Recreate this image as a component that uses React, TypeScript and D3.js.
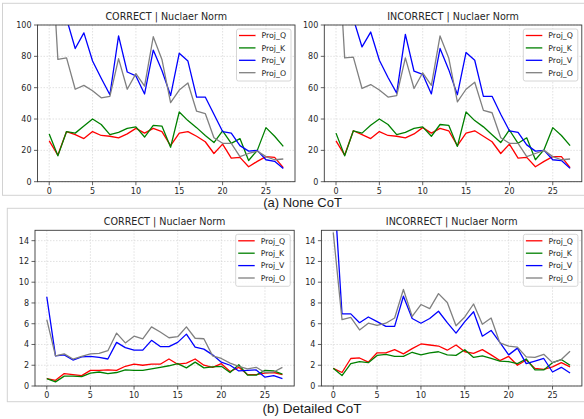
import React from 'react';
import * as d3 from 'd3';

// layer index on x axis
const layers = d3.range(28);
const seriesNames = ['Proj_Q', 'Proj_K', 'Proj_V', 'Proj_O'];
const seriesColors = ['#ff0000', '#008000', '#0000ff', '#808080'];

// (a) None CoT, CORRECT
const noneCorrectQ = [26, 17, 32, 30, 27.5, 32, 29.5, 29, 28, 30.5, 34, 31, 34, 32, 23, 31, 32, 29, 25.5, 18, 24, 15, 15.5, 9.5, 13, 16, 15.5, 9];
const noneCorrectK = [30.5, 16.5, 32, 31, 35.5, 40, 36.5, 30, 31.5, 34, 35, 28.5, 36, 35.5, 22, 44.5, 39, 34.5, 29.5, 25, 32.5, 24.5, 27.5, 13.5, 20, 34.5, 29, 22.5];
const noneCorrectV = [135, 118, 104, 85, 95, 77, 66, 55.5, 93, 70, 67.5, 56, 84, 71, 55, 82, 77, 54, 54, 43, 32, 31, 23, 19.5, 20, 14, 13, 8.5];
const noneCorrectO = [174, 78, 79, 59, 61.5, 58, 53.5, 54.5, 78.5, 59, 69, 61, 92.5, 78, 50.5, 58.5, 63, 45, 43.5, 28, 24.5, 24.5, 16, 18, 19.5, 16, 14, 14.5];

// (a) None CoT, INCORRECT
const noneIncorrectQ = [26, 17, 32.5, 30, 27.5, 32, 29.5, 29, 28, 30.5, 34.5, 31, 34, 32.5, 23, 31, 32.5, 29, 25.5, 18, 24, 15, 15.5, 9.5, 13, 16, 16, 9];
const noneIncorrectK = [31, 16.5, 32.5, 31, 36, 40, 36.5, 30, 31.5, 34, 35, 29, 36.5, 36, 22.5, 44.5, 39, 35, 30, 25, 33, 24.5, 28, 14, 20.5, 34.5, 29.5, 23];
const noneIncorrectV = [136, 119, 104, 86, 95.5, 77.5, 66.5, 56.5, 94, 70.5, 68.5, 56, 85, 71.5, 55.5, 82.5, 77.5, 54.5, 54.5, 43, 32.5, 31.5, 23.5, 19.5, 20, 14, 13.5, 8.5];
const noneIncorrectO = [175, 79, 79.5, 59.5, 62, 58.5, 54, 55, 79, 59.5, 69.5, 61.5, 93, 79, 51, 59, 63.5, 45.5, 44, 28, 24.5, 24.5, 16, 18, 20, 16, 14, 14.5];

// (b) Detailed CoT, CORRECT
const detCorrectQ = [0.7, 0.55, 1.2, 1.1, 1.0, 1.5, 1.5, 1.55, 1.5, 1.9, 2.1, 2.0, 2.1, 2.1, 2.6, 2.1, 2.2, 2.6, 2.0, 1.8, 2.15, 1.4, 1.8, 1.1, 1.1, 1.25, 1.3, 1.1];
const detCorrectK = [0.7, 0.4, 0.95, 0.95, 0.9, 1.25, 1.35, 1.2, 1.3, 1.55, 1.5, 1.5, 1.65, 1.8, 1.95, 2.15, 1.75, 2.3, 1.75, 1.85, 1.9, 1.3, 2.05, 1.05, 1.05, 1.5, 1.45, 1.15];
const detCorrectV = [8.6, 2.9, 3.0, 2.5, 2.8, 2.85, 2.75, 2.6, 4.2, 3.7, 3.45, 3.45, 4.4, 3.8, 3.8, 4.2, 5.0, 3.75, 3.55, 3.0, 2.3, 2.0, 1.45, 1.5, 1.55, 0.85, 1.0, 0.7];
const detCorrectO = [6.4, 2.9, 3.1, 2.6, 2.85, 3.1, 3.15, 3.4, 5.1, 4.15, 4.8, 4.55, 5.7, 5.2, 4.65, 4.75, 5.7, 4.6, 4.55, 2.9, 2.65, 2.2, 1.9, 1.65, 1.8, 1.3, 1.35, 1.8];

// (b) Detailed CoT, INCORRECT
const detIncorrectQ = [1.7, 1.3, 2.65, 2.7, 2.3, 3.2, 3.2, 3.5, 3.1, 3.6, 4.05, 3.95, 3.85, 3.45, 3.95, 3.3, 3.15, 3.5, 3.0, 2.45, 2.85, 2.0, 2.5, 1.7, 1.6, 1.85, 2.25, 1.85];
const detIncorrectK = [1.7, 1.0, 2.15, 2.35, 2.25, 2.95, 3.05, 2.85, 2.85, 3.25, 3.0, 3.2, 3.3, 3.0, 2.95, 3.5, 2.75, 2.9, 2.65, 2.4, 2.35, 2.15, 2.6, 1.55, 1.55, 2.25, 2.55, 2.0];
const detIncorrectV = [20.4, 6.95, 6.95, 6.1, 6.65, 6.2, 5.75, 5.75, 8.65, 6.5, 6.05, 6.5, 7.2, 6.1, 5.1, 6.2, 7.15, 4.8, 5.35, 4.2, 3.0, 3.65, 2.15, 2.4, 2.65, 1.35, 1.8, 1.25];
const detIncorrectO = [14.8, 6.4, 6.6, 5.4, 6.05, 5.85, 6.05, 6.55, 9.3, 6.7, 7.85, 7.45, 8.9, 8.05, 5.8, 6.65, 7.9, 5.95, 6.55, 4.15, 3.85, 3.75, 2.8, 2.75, 3.05, 2.25, 2.55, 3.35];

const xTicks = [0, 5, 10, 15, 20, 25];
const yTicksNone = [0, 20, 40, 60, 80, 100];
const yTicksDet = [0, 2, 4, 6, 8, 10, 12, 14];

const FONT = '"DejaVu Sans", sans-serif';

interface PanelProps {
  id: string;
  title: string;
  series: number[][];
  x0: number;
  x1: number;
  yTop: number;
  yBottom: number;
  yMax: number;
  yTicks: number[];
  titleY: number;
}

const Panel = ({ id, title, series, x0, x1, yTop, yBottom, yMax, yTicks, titleY }: PanelProps) => {
  const x = d3.scaleLinear().domain([-1.35, 28.35]).range([x0, x1]);
  const y = d3.scaleLinear().domain([0, yMax]).range([yBottom, yTop]);
  const line = d3
    .line<number>()
    .x((_, i) => x(layers[i]))
    .y((d) => y(d));

  const lx = x1 - 4 - 54.5;
  const ly = yTop + 4;

  return (
    <g>
      <defs>
        <clipPath id={id}>
          <rect x={x0} y={yTop} width={x1 - x0} height={yBottom - yTop} />
        </clipPath>
      </defs>
      <rect x={x0} y={yTop} width={x1 - x0} height={yBottom - yTop} fill="#fff" />
      {/* grid */}
      {xTicks.map((t) => (
        <line key={'gx' + t} x1={x(t)} x2={x(t)} y1={yTop} y2={yBottom} stroke="#d4d4d4" strokeWidth={0.7} strokeDasharray="1.5,1.5" />
      ))}
      {yTicks.map((t) => (
        <line key={'gy' + t} x1={x0} x2={x1} y1={y(t)} y2={y(t)} stroke="#d4d4d4" strokeWidth={0.7} strokeDasharray="1.5,1.5" />
      ))}
      <g clipPath={`url(#${id})`}>
        {series.map((s, k) => (
          <path key={k} d={line(s) || ''} fill="none" stroke={seriesColors[k]} strokeWidth={1.3} strokeLinejoin="round" />
        ))}
      </g>
      <rect x={x0} y={yTop} width={x1 - x0} height={yBottom - yTop} fill="none" stroke="#3a3a3a" strokeWidth={0.9} />
      {/* x ticks */}
      {xTicks.map((t) => (
        <g key={'tx' + t}>
          <line x1={x(t)} x2={x(t)} y1={yBottom} y2={yBottom + 3.5} stroke="#3a3a3a" strokeWidth={0.8} />
          <text x={x(t)} y={yBottom + 12} textAnchor="middle" fontSize={8} fontFamily={FONT} fill="#262626">
            {t}
          </text>
        </g>
      ))}
      {/* y ticks */}
      {yTicks.map((t) => (
        <g key={'ty' + t}>
          <line x1={x0 - 3.5} x2={x0} y1={y(t)} y2={y(t)} stroke="#3a3a3a" strokeWidth={0.8} />
          <text x={x0 - 6} y={y(t) + 2.9} textAnchor="end" fontSize={8} fontFamily={FONT} fill="#262626">
            {t}
          </text>
        </g>
      ))}
      <text x={(x0 + x1) / 2} y={titleY} textAnchor="middle" fontSize={9.6} fontFamily={FONT} fill="#262626">
        {title}
      </text>
      {/* legend */}
      <rect x={lx} y={ly} width={54.5} height={52} rx={2} fill="#fff" fillOpacity={0.85} stroke="#cccccc" strokeWidth={0.8} />
      {seriesNames.map((n, k) => (
        <g key={n}>
          <line x1={lx + 2.5} x2={lx + 19} y1={ly + 6.5 + k * 12.4} y2={ly + 6.5 + k * 12.4} stroke={seriesColors[k]} strokeWidth={1.3} />
          <text x={lx + 25} y={ly + 9.3 + k * 12.4} fontSize={7.8} fontFamily={FONT} fill="#262626">
            {n}
          </text>
        </g>
      ))}
    </g>
  );
};

const App = () => {
  return (
    <svg width={584} height={419} style={{ position: 'absolute', left: 0, top: 0, background: '#fff' }}>
      <rect x={0} y={0} width={584} height={419} fill="#fff" />
      {/* frames around each row */}
      <rect x={2.5} y={3.3} width={584} height={192} fill="none" stroke="#d2d2d2" strokeWidth={1} />
      <rect x={7.3} y={208.3} width={584} height={193.4} fill="none" stroke="#d2d2d2" strokeWidth={1} />
      <Panel
        id="c1"
        title="CORRECT | Nuclaer Norm"
        series={[noneCorrectQ, noneCorrectK, noneCorrectV, noneCorrectO]}
        x0={37.5}
        x1={295}
        yTop={25}
        yBottom={181.7}
        yMax={100}
        yTicks={yTicksNone}
        titleY={19.8}
      />
      <Panel
        id="c2"
        title="INCORRECT | Nuclaer Norm"
        series={[noneIncorrectQ, noneIncorrectK, noneIncorrectV, noneIncorrectO]}
        x0={324.3}
        x1={581.8}
        yTop={25}
        yBottom={181.7}
        yMax={100}
        yTicks={yTicksNone}
        titleY={19.8}
      />
      <Panel
        id="c3"
        title="CORRECT | Nuclaer Norm"
        series={[detCorrectQ, detCorrectK, detCorrectV, detCorrectO]}
        x0={35}
        x1={294.2}
        yTop={230.3}
        yBottom={386}
        yMax={15}
        yTicks={yTicksDet}
        titleY={225}
      />
      <Panel
        id="c4"
        title="INCORRECT | Nuclaer Norm"
        series={[detIncorrectQ, detIncorrectK, detIncorrectV, detIncorrectO]}
        x0={321.4}
        x1={581.9}
        yTop={230.3}
        yBottom={386}
        yMax={15}
        yTicks={yTicksDet}
        titleY={225}
      />
      <text x={302.5} y={206.5} textAnchor="middle" fontSize={13} fontFamily='"Liberation Sans", Arial, sans-serif' fill="#1a1a1a">
        (a) None CoT
      </text>
      <text x={312} y={412.5} textAnchor="middle" fontSize={13.5} fontFamily='"Liberation Sans", Arial, sans-serif' fill="#1a1a1a">
        (b) Detailed CoT
      </text>
    </svg>
  );
};

export default App;
